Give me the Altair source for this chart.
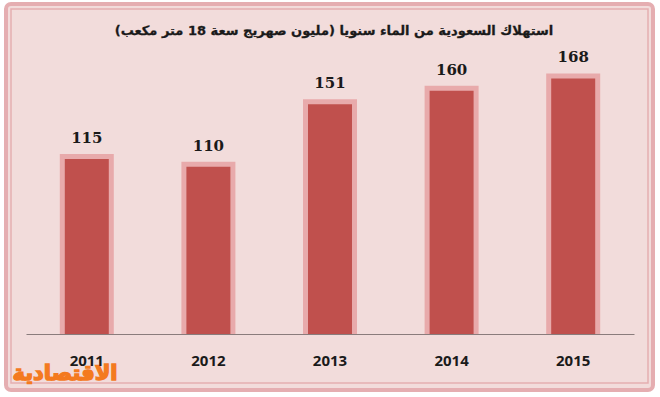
import altair as alt
import pandas as pd

years = ["2011", "2012", "2013", "2014", "2015"]
values = [115, 110, 151, 160, 168]
title_text = "استهلاك السعودية من الماء سنويا (مليون صهريج سعة 18 متر مكعب)"
logo_text = "الاقتصادية"

df = pd.DataFrame({"year": years, "value": values})
one = pd.DataFrame({"a": [0]})

BG = "#f2dcdb"
FRAME = "#e5aeb1"
RED = "#c0504d"
HALO = "#e8aaab"

W, H = 608, 289

x_enc = alt.X("year:N", sort=years, title=None,
              scale=alt.Scale(paddingInner=0, paddingOuter=0),
              axis=alt.Axis(labelAngle=0, ticks=False, domainColor="#8a7c7c",
                            domainWidth=1, labelFont="Open Sans", labelFontSize=15,
                            labelFontWeight="bold", labelColor="#1a1a1a",
                            labelPadding=19, zindex=1))
y_enc = alt.Y("value:Q", scale=alt.Scale(domain=[0, 190], nice=False),
              axis=None, title=None)

frame_outer = alt.Chart(one).mark_rect(
    fill=BG, stroke=FRAME, strokeWidth=4, cornerRadius=5
).encode(x=alt.value(-20), x2=alt.value(627), y=alt.value(-41), y2=alt.value(345))

frame_inner = alt.Chart(one).mark_rect(
    fill=BG, fillOpacity=0, stroke=FRAME, strokeWidth=1.5
).encode(x=alt.value(-15), x2=alt.value(622), y=alt.value(-36), y2=alt.value(338))

title = alt.Chart(one).mark_text(
    text=title_text, font="DejaVu Sans", fontSize=13, fontWeight="bold",
    color="#1a1a1a", align="center", baseline="middle", stroke="#1a1a1a",
    strokeWidth=0.3
).encode(x=alt.value(308), y=alt.value(-14))

base = alt.Chart(df)
halo = base.mark_bar(size=54, color=HALO, yOffset=-5).encode(x=x_enc, y=y_enc, y2=alt.datum(0))
bars = base.mark_bar(size=44, color=RED).encode(x=x_enc, y=y_enc)
labels = base.mark_text(font="DejaVu Serif", fontWeight="bold", fontSize=15,
                        color="#1a1a1a", dy=-21, baseline="middle").encode(
    x=x_enc, y=y_enc, text="value:Q")

logo = alt.Chart(one).mark_text(
    text=logo_text, font="DejaVu Sans", fontWeight="bold", fontSize=21,
    color="#f47a1f", align="center", baseline="middle", stroke="#f47a1f",
    strokeWidth=1.4
).encode(x=alt.value(39), y=alt.value(329))

chart = alt.layer(frame_outer, frame_inner, title, halo, bars, labels, logo).properties(
    width=W, height=H,
    autosize=alt.AutoSizeParams(type="none"),
    padding={"left": 26, "top": 45, "right": 26, "bottom": 63},
    background="white",
).configure_view(stroke=None)

chart.save("out.html", embed_options={"renderer": "svg", "actions": False})
